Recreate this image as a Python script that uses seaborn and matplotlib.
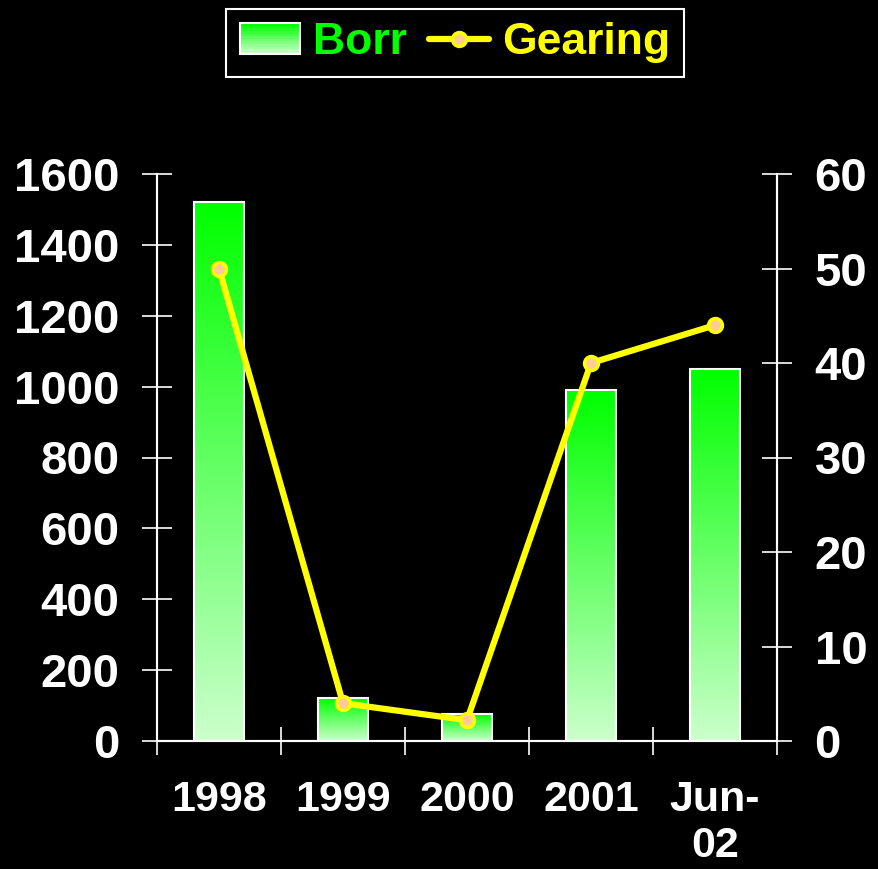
import numpy as np
import pandas as pd
import seaborn as sns
import matplotlib
import matplotlib.pyplot as plt
from matplotlib.colors import LinearSegmentedColormap
from matplotlib.lines import Line2D
from matplotlib.patches import Rectangle
from matplotlib.legend_handler import HandlerBase

plt.switch_backend('agg')

# data
years = ['1998', '1999', '2000', '2001', 'Jun-\n02']
borr = [1520, 120, 75, 990, 1050]
gearing = [50, 4, 2.2, 40, 44]

sns.set_style('dark')
plt.rcParams['font.family'] = ['Liberation Sans', 'DejaVu Sans']
plt.rcParams['font.weight'] = 'bold'

green_cmap = LinearSegmentedColormap.from_list('borr', ['#ccffcc', '#00ff00'])


class GradientHandler(HandlerBase):
    # legend box filled with the same vertical gradient as the bars
    def create_artists(self, legend, orig_handle, xdescent, ydescent, width, height, fontsize, trans):
        artists = []
        n = 12
        for i in range(n):
            r = Rectangle((-xdescent, -ydescent + height * i / n), width, height / n + 0.3,
                          facecolor=green_cmap(i / (n - 1)), edgecolor='none', transform=trans)
            artists.append(r)
        artists.append(Rectangle((-xdescent, -ydescent), width, height, facecolor='none',
                                 edgecolor='white', linewidth=1.5, transform=trans))
        return artists


df = pd.DataFrame({'year': years, 'borr': borr, 'gearing': gearing})

fig = plt.figure(figsize=(8.79, 8.69), dpi=100, facecolor='black')
ax = fig.add_axes([157 / 879, 1 - 741 / 869, 620 / 879, 567 / 869])
ax.set_facecolor('black')

sns.barplot(data=df, x='year', y='borr', width=0.4, color='#00ff00', ax=ax,
            edgecolor='white', linewidth=1.5, saturation=1)

grad = np.linspace(0, 1, 256).reshape(-1, 1)
for p in list(ax.patches):
    x0, y0 = p.get_x(), p.get_y()
    w, h = p.get_width(), p.get_height()
    im = ax.imshow(grad, extent=[x0, x0 + w, y0, y0 + h], cmap=green_cmap, origin='lower',
                   aspect='auto', zorder=p.get_zorder())
    im.set_clip_path(p)
    p.set_facecolor('none')
    p.set_zorder(p.get_zorder() + 0.1)

ax.set_xlim(-0.5, len(years) - 0.5)
ax.set_ylim(0, 1600)
ax.set_yticks(np.arange(0, 1601, 200))
ax.set_xlabel('')
ax.set_ylabel('')
ax.grid(False)

ax2 = ax.twinx()
sns.lineplot(x=np.arange(len(years)), y=df.gearing, ax=ax2, color='#ffff00', linewidth=4.5,
             marker='o', markersize=10, markerfacecolor='#ffcc99', markeredgecolor='#ffff00',
             markeredgewidth=2.5)
ax2.set_ylim(0, 60)
ax2.set_yticks(np.arange(0, 61, 10))
ax2.set_ylabel('')
ax2.grid(False)

for a in (ax, ax2):
    for s in a.spines.values():
        s.set_color('white')
        s.set_linewidth(1.5)
    a.spines['top'].set_visible(False)

ax.tick_params(axis='y', left=True, colors='white', direction='inout', length=22, width=1.2,
               labelsize=34, pad=16)
ax2.tick_params(axis='y', right=True, colors='white', direction='inout', length=22, width=1.2,
                labelsize=34, pad=16)

# category labels at centres, ticks at boundaries
ax.set_xticks(np.arange(len(years)))
ax.set_xticklabels(years, linespacing=1.2)
ax.set_xticks(np.arange(-0.5, len(years)), minor=True)
ax.tick_params(axis='x', which='major', bottom=True, length=0, colors='white', labelsize=31, pad=28)
ax.tick_params(axis='x', which='minor', bottom=True, direction='inout', length=20, width=1.2,
               color='white')
for t in ax.get_xticklabels() + ax.get_yticklabels() + ax2.get_yticklabels():
    t.set_fontweight('bold')

handles = [Rectangle((0, 0), 1, 1),
           Line2D([], [], color='#ffff00', linewidth=4.5, marker='o', markersize=10,
                  markerfacecolor='#ffcc99', markeredgecolor='#ffff00', markeredgewidth=2.5)]
leg = fig.legend(handles, ['Borr', 'Gearing'], loc='upper center', ncol=2,
                 bbox_to_anchor=(455 / 879, 1 - 9 / 869), borderaxespad=0,
                 handler_map={Rectangle: GradientHandler()},
                 prop={'size': 32, 'weight': 'bold'}, frameon=True, fancybox=False,
                 facecolor='black', edgecolor='white', framealpha=1,
                 handlelength=1.35, handletextpad=0.3, columnspacing=0.5, borderpad=0.3)
leg.get_frame().set_linewidth(1.5)
leg.get_texts()[0].set_color('#00ff00')
leg.get_texts()[1].set_color('#ffff00')

plt.savefig('out.png', dpi=100, facecolor='black')
